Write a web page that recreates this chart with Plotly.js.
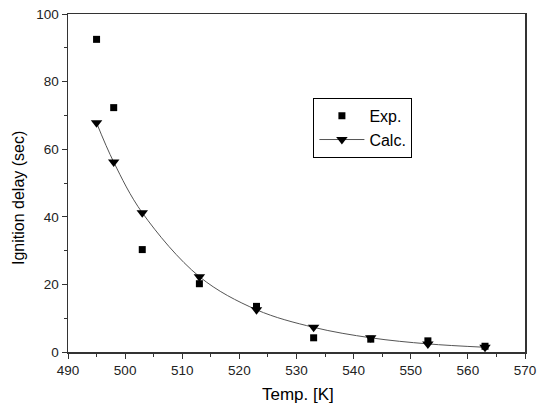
<!DOCTYPE html>
<html><head><meta charset="utf-8">
<script src="https://cdn.plot.ly/plotly-3.0.1.min.js"></script>
<style>body{margin:0;background:#fff}#c{width:539px;height:407px}</style>
</head><body><div id="c"></div>
<script>
const temps = [495, 498, 503, 513, 523, 533, 543, 553, 563];
const expDelay = [92.5, 72.3, 30.3, 20.2, 13.5, 4.2, 3.8, 3.3, 1.7];
const calcDelay = [67.8, 56.2, 41.2, 22.3, 12.5, 7.3, 4.2, 2.4, 1.4];
const xTickVals = [490, 500, 510, 520, 530, 540, 550, 560, 570];
const yTickVals = [0, 20, 40, 60, 80, 100];
const xTitle = 'Temp. [K]';
const yTitle = 'Ignition delay (sec)';

const FONT = 'Liberation Sans, Arial';
const traces = [
  {x: temps, y: expDelay, mode: 'markers', name: 'Exp.', type: 'scatter',
   marker: {symbol: 'square', size: 7, color: '#000'}},
  {x: temps, y: calcDelay, mode: 'lines+markers', name: 'Calc.', type: 'scatter',
   line: {shape: 'spline', color: '#555', width: 1},
   marker: {symbol: 'triangle-down', size: 10, color: '#000'}}
];
const axisCommon = {
  showline: true, mirror: true, linecolor: '#333', linewidth: 1.5,
  ticks: 'outside', ticklen: 5, tickwidth: 1, tickcolor: '#333',
  showgrid: false, zeroline: false,
  tickfont: {family: FONT, size: 13.5, color: '#222'}
};
const layout = {
  width: 539, height: 407,
  margin: {l: 68, r: 14, t: 14, b: 55},
  paper_bgcolor: '#fff', plot_bgcolor: '#fff',
  showlegend: true,
  legend: {x: 0.537, y: 0.752, xanchor: 'left', yanchor: 'top',
    bordercolor: '#000', borderwidth: 1, bgcolor: '#fff',
    font: {family: FONT, size: 16, color: '#000'},
    tracegroupgap: 0, itemwidth: 45},
  xaxis: Object.assign({}, axisCommon, {
    range: [490, 570], tickvals: xTickVals,
    minor: {dtick: 5, tick0: 490, ticks: 'outside', ticklen: 3, tickcolor: '#333'}
  }),
  yaxis: Object.assign({}, axisCommon, {
    range: [0, 100], tickvals: yTickVals,
    minor: {dtick: 10, tick0: 0, ticks: 'outside', ticklen: 3, tickcolor: '#333'}
  }),
  annotations: [
    {text: xTitle, xref: 'paper', yref: 'paper', x: 0.504, y: -0.127,
     xanchor: 'center', yanchor: 'middle', showarrow: false,
     font: {family: FONT, size: 17, color: '#000'}},
    {text: yTitle, xref: 'paper', yref: 'paper', x: -0.107, y: 0.456,
     xanchor: 'center', yanchor: 'middle', showarrow: false, textangle: -90,
     font: {family: FONT, size: 16, color: '#000'}}
  ]
};
Plotly.newPlot('c', traces, layout, {displayModeBar: false, staticPlot: true});
</script></body></html>
